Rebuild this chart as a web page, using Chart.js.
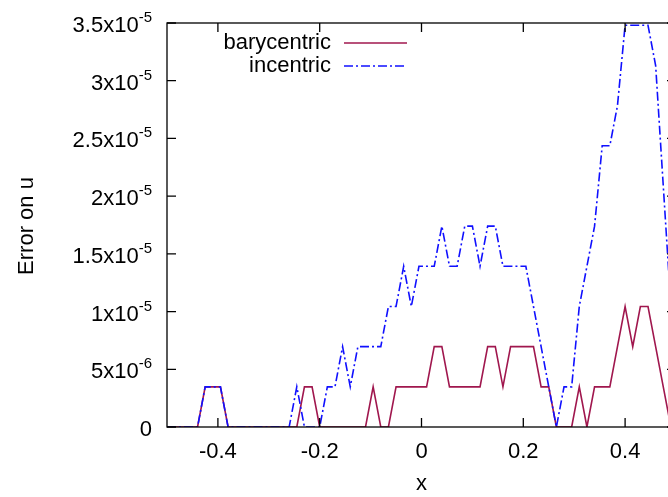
<!DOCTYPE html>
<html>
<head>
<meta charset="utf-8">
<script src="https://cdn.jsdelivr.net/npm/chart.js@4/dist/chart.umd.min.js"></script>
<style>
  html, body { margin: 0; padding: 0; background: #fff; overflow: hidden; }
</style>
</head>
<body>
<canvas id="c" width="690" height="497"></canvas>
<script>
// x positions of the samples
const xs = [-0.5, -0.485, -0.47, -0.455, -0.44, -0.425, -0.41, -0.395, -0.38, -0.365,
  -0.35, -0.335, -0.32, -0.305, -0.29, -0.275, -0.26, -0.245, -0.23, -0.215,
  -0.2, -0.185, -0.17, -0.155, -0.14, -0.125, -0.11, -0.095, -0.08, -0.065,
  -0.05, -0.035, -0.02, -0.005, 0.01, 0.025, 0.04, 0.055, 0.07, 0.085,
  0.1, 0.115, 0.13, 0.145, 0.16, 0.175, 0.19, 0.205, 0.22, 0.235,
  0.25, 0.265, 0.28, 0.295, 0.31, 0.325, 0.34, 0.355, 0.37, 0.385,
  0.4, 0.415, 0.43, 0.445, 0.46, 0.475, 0.49];

const barycentric = [0, 0, 0, 0, 0, 3.48e-6, 3.48e-6, 3.48e-6, 0, 0,
  0, 0, 0, 0, 0, 0, 0, 0, 3.48e-6, 3.48e-6,
  0, 0, 0, 0, 0, 0, 0, 3.48e-6, 0, 0,
  3.48e-6, 3.48e-6, 3.48e-6, 3.48e-6, 3.48e-6, 6.96e-6, 6.96e-6, 3.48e-6, 3.48e-6, 3.48e-6,
  3.48e-6, 3.48e-6, 6.96e-6, 6.96e-6, 3.48e-6, 6.96e-6, 6.96e-6, 6.96e-6, 6.96e-6, 3.48e-6,
  3.48e-6, 0, 0, 0, 3.48e-6, 0, 3.48e-6, 3.48e-6, 3.48e-6, 6.96e-6,
  1.044e-5, 6.96e-6, 1.044e-5, 1.044e-5, 6.96e-6, 3.48e-6, 0];

const incentric = [0, 0, 0, 0, 0, 3.48e-6, 3.48e-6, 3.48e-6, 0, 0,
  0, 0, 0, 0, 0, 0, 0, 3.48e-6, 0, 0,
  0, 3.48e-6, 3.48e-6, 6.96e-6, 3.48e-6, 6.96e-6, 6.96e-6, 6.96e-6, 6.96e-6, 1.044e-5,
  1.044e-5, 1.392e-5, 1.044e-5, 1.392e-5, 1.392e-5, 1.392e-5, 1.74e-5, 1.392e-5, 1.392e-5, 1.74e-5,
  1.74e-5, 1.392e-5, 1.74e-5, 1.74e-5, 1.392e-5, 1.392e-5, 1.392e-5, 1.392e-5, 1.044e-5, 6.96e-6,
  3.48e-6, 0, 3.48e-6, 3.48e-6, 1.044e-5, 1.392e-5, 1.74e-5, 2.436e-5, 2.436e-5, 2.784e-5,
  3.48e-5, 3.48e-5, 3.48e-5, 3.48e-5, 3.132e-5, 2.088e-5, 1.044e-5];

const xTicks = [-0.4, -0.2, 0, 0.2, 0.4];
const xTickLabels = ['-0.4', '-0.2', '0', '0.2', '0.4'];
const yTicks = [0, 5e-6, 1e-5, 1.5e-5, 2e-5, 2.5e-5, 3e-5, 3.5e-5];
const yTickBase = ['0', '5x10', '1x10', '1.5x10', '2x10', '2.5x10', '3x10', '3.5x10'];
const yTickExp = ['', '-6', '-5', '-5', '-5', '-5', '-5', '-5'];

const FONT = '"Liberation Sans", Arial, sans-serif';

function pts(ys) {
  return xs.map((x, i) => ({ x: x, y: ys[i] }));
}

// gnuplot-like frame, inward ticks, y labels with exponents, key and axis titles
const frame = {
  id: 'frame',
  afterDatasetsDraw(chart) {
    const ctx = chart.ctx;
    const a = chart.chartArea;
    const sx = chart.scales.x, sy = chart.scales.y;
    ctx.save();
    ctx.strokeStyle = '#000';
    ctx.lineWidth = 1.3;
    ctx.strokeRect(a.left, a.top, a.right - a.left, a.bottom - a.top);
    ctx.beginPath();
    xTicks.forEach(v => {
      const p = sx.getPixelForValue(v);
      ctx.moveTo(p, a.bottom); ctx.lineTo(p, a.bottom - 9);
      ctx.moveTo(p, a.top); ctx.lineTo(p, a.top + 9);
    });
    yTicks.forEach(v => {
      const p = sy.getPixelForValue(v);
      ctx.moveTo(a.left, p); ctx.lineTo(a.left + 9, p);
      ctx.moveTo(a.right, p); ctx.lineTo(a.right - 9, p);
    });
    ctx.stroke();

    // y tick labels
    ctx.fillStyle = '#000';
    ctx.textAlign = 'right';
    ctx.textBaseline = 'alphabetic';
    const right = 152;
    yTicks.forEach((v, i) => {
      const p = sy.getPixelForValue(v);
      let x = right;
      if (yTickExp[i]) {
        ctx.font = '15px ' + FONT;
        ctx.fillText(yTickExp[i], x, p - 1);
        x -= ctx.measureText(yTickExp[i]).width;
      }
      ctx.font = '22px ' + FONT;
      ctx.fillText(yTickBase[i], x, p + 9);
    });

    // key
    const key = [
      { label: chart.data.datasets[0].label, ds: chart.data.datasets[0], y: 43 },
      { label: chart.data.datasets[1].label, ds: chart.data.datasets[1], y: 66 }
    ];
    key.forEach(k => {
      ctx.font = '22px ' + FONT;
      ctx.textAlign = 'right';
      ctx.fillText(k.label, 331, k.y + 6);
      ctx.strokeStyle = k.ds.borderColor;
      ctx.lineWidth = k.ds.borderWidth;
      ctx.setLineDash(k.ds.borderDash || []);
      ctx.beginPath();
      ctx.moveTo(344, k.y); ctx.lineTo(407, k.y);
      ctx.stroke();
      ctx.setLineDash([]);
    });

    // axis titles
    ctx.font = '22px ' + FONT;
    ctx.textAlign = 'center';
    ctx.fillText('x', sx.getPixelForValue(0), 490);
    ctx.translate(33, 226);
    ctx.rotate(-Math.PI / 2);
    ctx.fillText('Error on u', 0, 0);
    ctx.restore();
  }
};

new Chart(document.getElementById('c'), {
  type: 'line',
  data: {
    datasets: [
      {
        label: 'barycentric',
        data: pts(barycentric),
        borderColor: '#a0174e',
        borderWidth: 1.6,
        pointRadius: 0,
        tension: 0,
        order: 1
      },
      {
        label: 'incentric',
        data: pts(incentric),
        borderColor: '#1010ff',
        borderWidth: 1.6,
        borderDash: [9, 3, 2, 3],
        pointRadius: 0,
        tension: 0,
        order: 0
      }
    ]
  },
  options: {
    responsive: false,
    animation: false,
    devicePixelRatio: 1,
    layout: { padding: { top: 23, right: 14, left: 0, bottom: 0 } },
    plugins: { legend: { display: false }, tooltip: { enabled: false } },
    scales: {
      x: {
        type: 'linear',
        min: -0.5,
        max: 0.5,
        grid: { display: false, drawTicks: false },
        border: { display: false },
        afterBuildTicks: s => { s.ticks = xTicks.map(v => ({ value: v })); },
        afterFit: s => { s.height = 70; },
        ticks: {
          padding: 12,
          color: '#000',
          font: { family: FONT, size: 22 },
          callback: (v, i) => xTickLabels[i]
        }
      },
      y: {
        type: 'linear',
        min: 0,
        max: 3.5e-5,
        grid: { display: false, drawTicks: false },
        border: { display: false },
        ticks: { display: false },
        afterFit: s => { s.width = 167; }
      }
    }
  },
  plugins: [frame]
});
</script>
</body>
</html>
